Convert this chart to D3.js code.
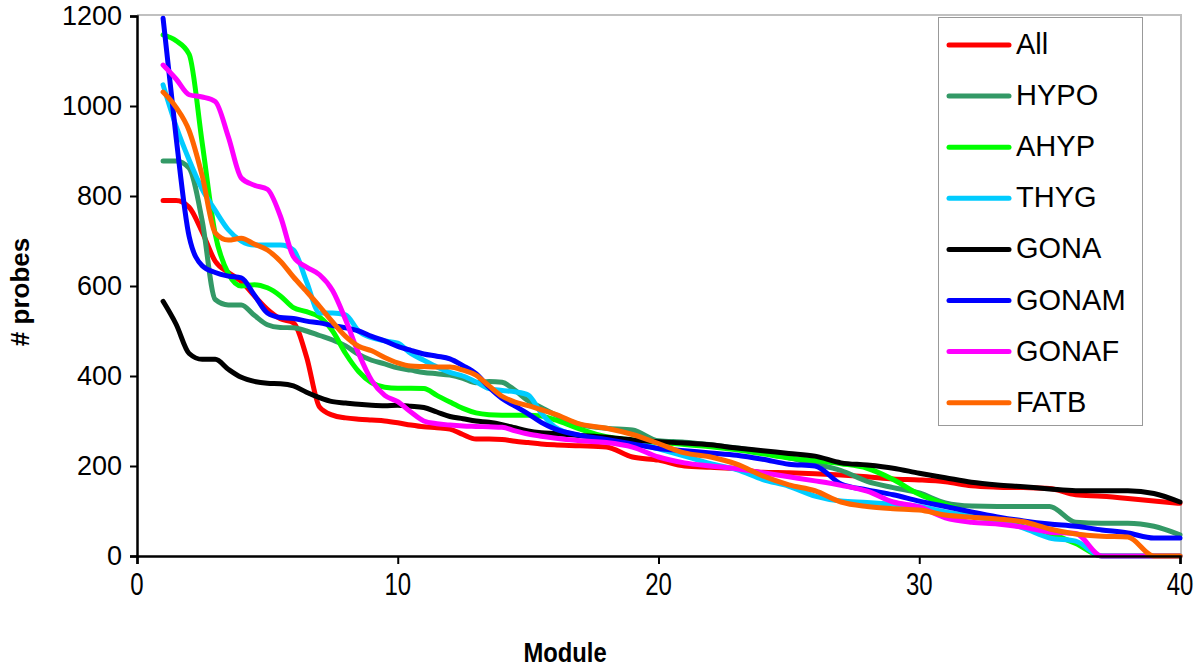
<!DOCTYPE html>
<html><head><meta charset="utf-8">
<script src="https://cdn.jsdelivr.net/npm/d3@7"></script>
<style>body{margin:0;background:#fff}svg{display:block}text{font-family:"Liberation Sans",Arial,sans-serif}</style>
</head><body>
<svg id="chart" width="1200" height="667"></svg>
<script>
const modules = [1,1.5,2,2.5,3,3.5,4,4.5,5,5.5,6,6.5,7,7.5,8,8.5,9,9.5,10,10.5,11,11.5,12,12.5,13,13.5,14,14.5,15,15.5,16,17,18,19,20,21,22,23,24,25,26,27,28,29,30,31,32,33,34,35,36,37,38,39,40];
const seriesNames = ["All","HYPO","AHYP","THYG","GONA","GONAM","GONAF","FATB"];
const seriesColors = ["#ff0000","#339966","#00ff00","#00ccff","#000000","#0000ff","#ff00ff","#ff6600"];
const valAll   = [790,790,775,720,655,630,610,578,548,527,518,443,331,313,307,304,302,300,296,291,287,285,282,270,260,260,259,255,252,249,247,245,242,220,213,200,197,194,186,185,183,180,176,171,169,165,156,153,152,150,136,133,128,122,117];
const valHYPO  = [878,878,862,745,570,558,558,535,514,508,507,500,490,480,467,448,435,427,418,413,408,405,402,395,385,388,386,368,345,330,315,292,284,280,256,253,247,240,232,218,205,190,166,152,140,118,111,110,110,110,75,73,73,66,47];
const valAHYP  = [1158,1145,1115,918,715,628,600,603,596,578,552,543,531,500,450,410,385,375,373,373,372,357,342,328,318,314,313,313,313,311,303,282,265,258,252,248,243,236,227,218,212,205,195,170,137,115,95,80,65,50,28,0,0,0,0];
const valTHYG  = [1047,955,880,815,768,725,700,691,691,691,680,610,540,540,536,500,485,478,473,450,435,420,408,400,387,372,368,365,358,318,288,267,258,253,238,222,205,192,170,155,133,122,119,115,110,98,88,78,62,40,33,0,0,0,0];
const valGONA  = [566,515,450,437,437,415,397,388,384,383,378,364,352,343,340,337,335,334,335,333,330,320,310,305,300,297,292,285,278,274,272,268,264,258,254,251,247,240,234,228,222,207,202,195,184,174,164,158,154,149,145,145,145,139,120];
const valGONAM = [1195,930,710,645,630,622,618,580,540,530,528,522,518,512,507,500,488,478,466,457,449,444,438,423,405,375,350,333,316,297,283,268,259,249,239,234,229,224,215,204,200,160,147,136,122,110,98,87,78,71,66,58,51,40,40];
const valGONAF = [1091,1060,1025,1020,1010,932,840,824,815,755,665,642,625,590,525,450,390,357,343,320,300,294,291,289,288,287,286,278,271,266,262,256,252,242,220,207,200,194,185,176,167,157,144,120,109,85,75,71,64,53,50,0,0,0,0];
const valFATB  = [1031,997,945,845,718,702,706,693,680,655,620,588,555,520,488,466,456,441,429,422,421,420,420,413,402,378,355,342,334,325,316,293,284,270,250,229,220,204,178,158,145,120,110,105,102,91,86,82,76,60,49,44,42,0,0];
const xTicks = [0,10,20,30,40];
const yTicks = [0,200,400,600,800,1000,1200];

const seriesValues = [valAll,valHYPO,valAHYP,valTHYG,valGONA,valGONAM,valGONAF,valFATB];
const svg = d3.select("#chart");
const L=137,R=1181,T=16,B=556;
const x = d3.scaleLinear().domain([0,40]).range([L,R-1]);
const y = d3.scaleLinear().domain([0,1200]).range([B,T]);

svg.append("path").attr("d",`M${L},${T-1}H${R}V${B}`).attr("fill","none").attr("stroke","#c0c0c0").attr("stroke-width",2);

const line = d3.line().x((d,i)=>x(modules[i])).y(d=>y(d)).curve(d3.curveMonotoneX);
seriesValues.forEach((vals,k)=>{
  svg.append("path").datum(vals).attr("d",line).attr("fill","none")
    .attr("stroke",seriesColors[k]).attr("stroke-width",5).attr("stroke-linejoin","round").attr("stroke-linecap","round");
});

const yAxis = svg.append("g").attr("transform",`translate(${L},0)`)
  .call(d3.axisLeft(y).tickValues(yTicks).tickSize(7).tickPadding(8).tickFormat(d3.format("d")));
yAxis.selectAll("text").attr("font-size",27).attr("fill","#000").attr("font-family",'"Liberation Sans",Arial,sans-serif');
const xAxis = svg.append("g").attr("transform",`translate(0,${B})`)
  .call(d3.axisBottom(x).tickValues(xTicks).tickSize(8).tickFormat(""));
xAxis.selectAll(".tick text").remove();
[yAxis,xAxis].forEach(a=>{a.select(".domain").attr("stroke","#000").attr("stroke-width",2.5);a.selectAll(".tick line").attr("stroke","#000").attr("stroke-width",2);});
svg.append("g").selectAll("text").data(xTicks).join("text")
  .attr("transform",d=>`translate(${x(d)},${595}) scale(0.75,1)`)
  .attr("text-anchor","middle").attr("font-size",32).attr("fill","#000").text(d=>d);

svg.append("text").attr("transform",`translate(565,662) scale(0.85,1)`).attr("text-anchor","middle")
  .attr("font-size",28).attr("font-weight","bold").text("Module");
svg.append("text").attr("transform",`translate(29,292) rotate(-90)`).attr("text-anchor","middle")
  .attr("font-size",26).attr("font-weight","bold").text("# probes");

const lg = svg.append("g");
lg.append("rect").attr("x",938.5).attr("y",17.5).attr("width",204).attr("height",408).attr("fill","#fff").attr("stroke","#999").attr("stroke-width",1);
seriesNames.forEach((n,k)=>{
  const yy = 45 + k*51.1;
  lg.append("line").attr("x1",949).attr("x2",1009).attr("y1",yy).attr("y2",yy).attr("stroke",seriesColors[k]).attr("stroke-width",5).attr("stroke-linecap","round");
  lg.append("text").attr("x",1016).attr("y",yy+9).attr("font-size",29).attr("fill","#000").text(n);
});
</script>
</body></html>
